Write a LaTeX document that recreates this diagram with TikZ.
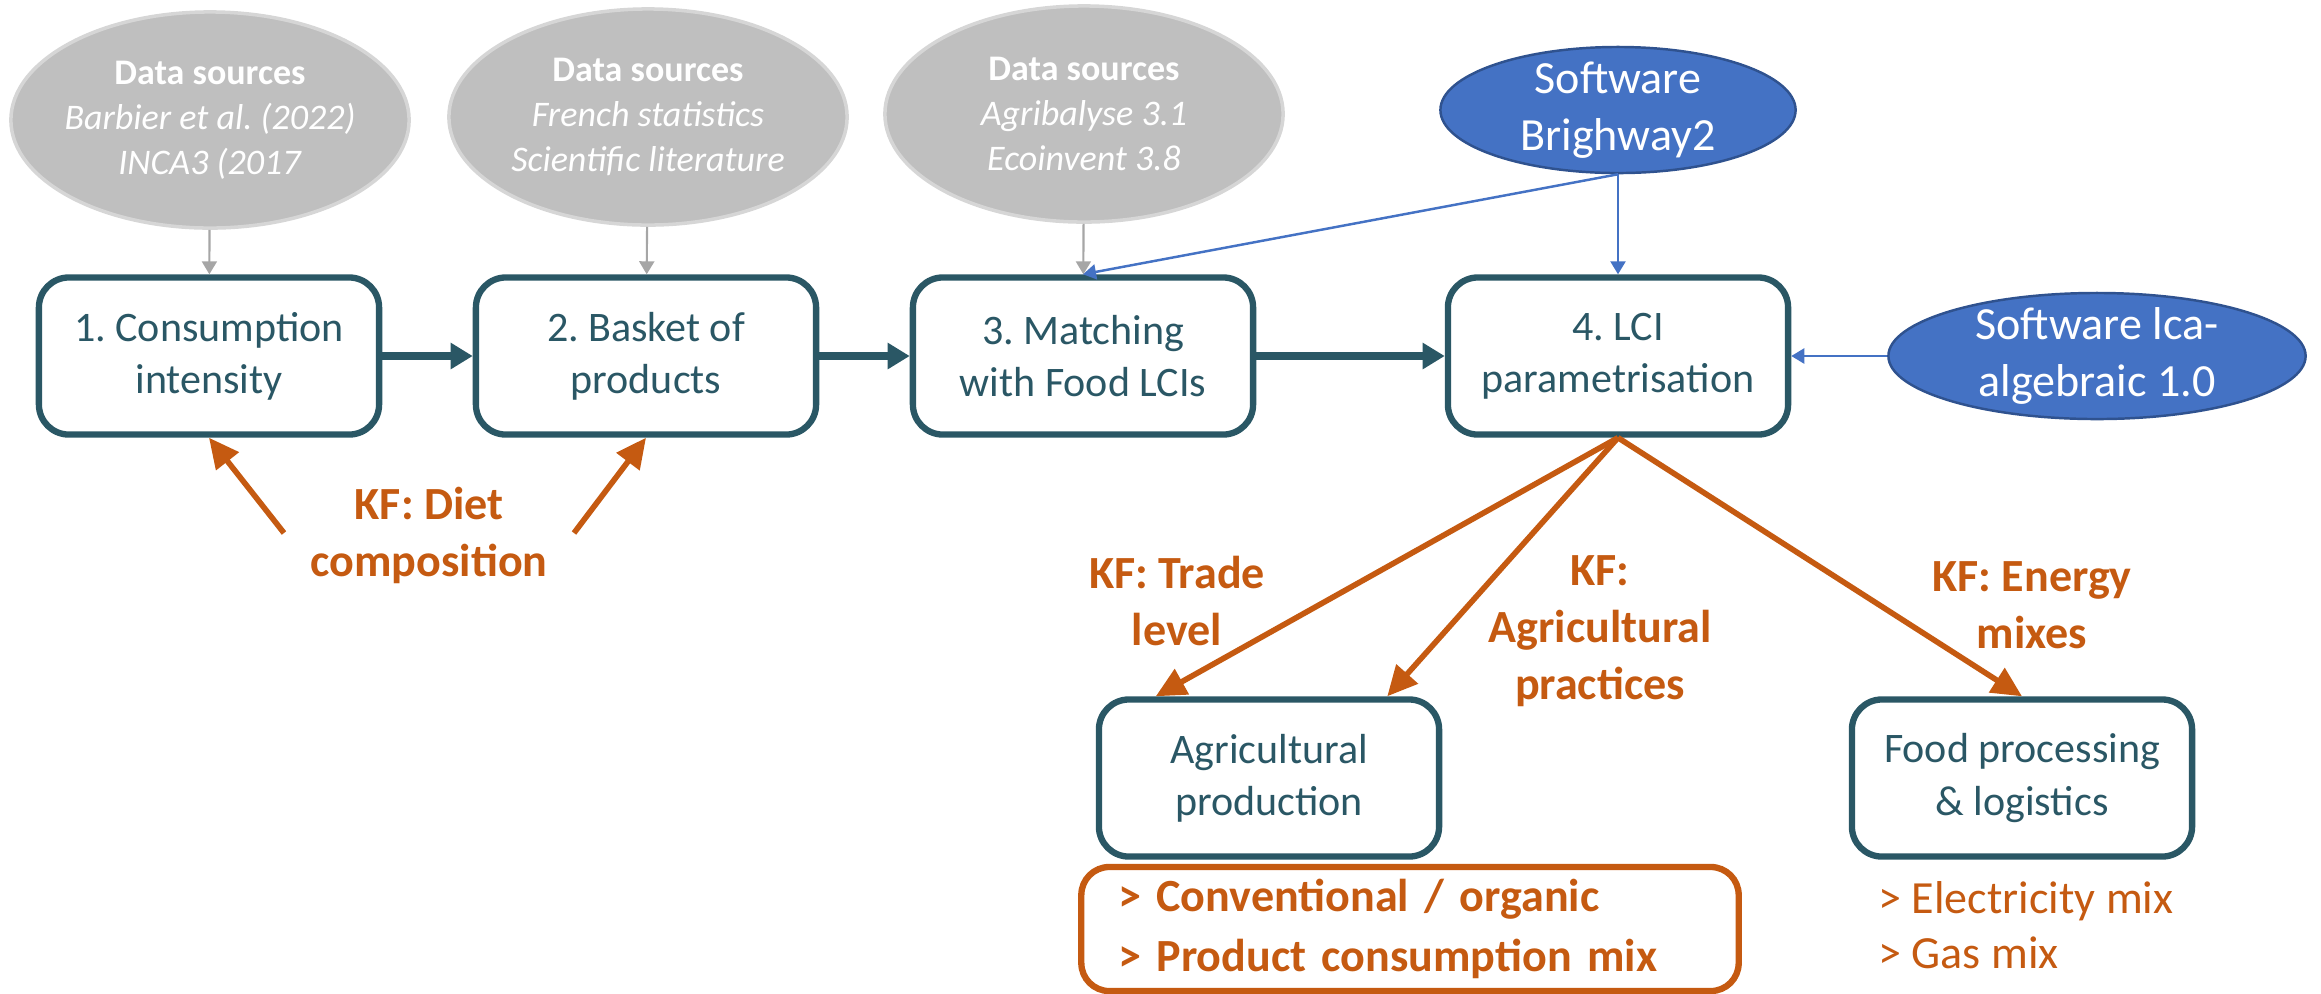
\documentclass[tikz,border=0pt]{standalone}
\usepackage{fontspec}
\setmainfont{Carlito}
\usepackage{tikz}
\usetikzlibrary{shapes.geometric, arrows.meta, positioning, calc}
\usepackage{xcolor}
\definecolor{tealdark}{HTML}{2A5765}
\definecolor{kforange}{HTML}{C55A11}
\definecolor{swblue}{HTML}{4472C4}
\definecolor{swborder}{HTML}{2F528F}
\definecolor{srcgrey}{HTML}{BFBFBF}
\definecolor{srcrim}{HTML}{D6D6D6}
\definecolor{srcline}{HTML}{A6A6A6}
\frenchspacing

\tikzset{
  stepbox/.style={draw=tealdark, fill=white, rounded corners=0.3cm, line width=1.8pt, minimum width=3.4cm, minimum height=1.57cm, align=center, text=tealdark, font=\fontsize{11.95}{14.8}\selectfont},
  source/.style={ellipse, fill=srcgrey, draw=srcrim, line width=1pt, minimum width=3.98cm, minimum height=2.16cm, inner xsep=-0.12cm, inner ysep=0pt, align=center, text=white, font=\fontsize{10.24}{12.8}\selectfont},
  software/.style={ellipse, fill=swblue, draw=swborder, line width=0.7pt, minimum height=1.26cm, inner xsep=0pt, inner ysep=-0.15cm, align=center, text=white, font=\fontsize{13.1}{16.2}\selectfont},
  kflabel/.style={align=center, text=kforange, font=\fontsize{13.1}{16.2}\selectfont\bfseries},
  flow/.style={-{Triangle[length=0.22cm, width=0.25cm]}, draw=tealdark, line width=2pt},
  kfarrow/.style={-{Triangle[length=0.3cm, width=0.28cm]}, draw=kforange, line width=1.6pt},
  feed/.style={-{Triangle[length=0.13cm, width=0.15cm]}, draw=srcline, line width=0.6pt},
  tool/.style={-{Triangle[length=0.13cm, width=0.15cm]}, draw=swblue, line width=0.7pt},
}

\begin{document}
\begin{tikzpicture}[x=0.01cm, y=-0.01cm]
  \useasboundingbox (0,0) rectangle (2321,993);

  % data sources
  \node[source] (src1) at (210,120) {\textbf{Data sources}\\\textit{Barbier et al. (2022)}\\\textit{INCA3 (2017}};
  \node[source] (src2) at (648,117) {\textbf{Data sources}\\\textit{French statistics}\\\textit{Scientific literature}};
  \node[source] (src3) at (1084,114) {\textbf{Data sources}\\\textit{Agribalyse 3.1}\\\textit{Ecoinvent 3.8}};

  % software
  \node[software, minimum width=3.55cm] (bw) at (1618,110) {Software\\Brighway2};
  \node[software, minimum width=4.17cm] (lca) at (2097,356) {Software lca-\\algebraic 1.0};

  % main steps
  \node[stepbox] (cons) at (209,356) {1. Consumption\\intensity};
  \node[stepbox] (basket) at (646,356) {2. Basket of\\products};
  \node[stepbox] (match) at (1083,356) {3. Matching\\with Food LCIs};
  \node[stepbox] (lci) at (1618,356) {4. LCI\\parametrisation};

  \node[stepbox] (agri) at (1269,778) {Agricultural\\production};
  \node[stepbox] (food) at (2022,778) {Food processing\\\& logistics};

  % options under the sub-processes
  \node[draw=kforange, line width=1.8pt, rounded corners=0.28cm, text width=5.83cm, inner xsep=0.37cm, minimum height=1.24cm, align=left, text=kforange, font=\fontsize{13.1}{17}\selectfont\bfseries] (agriopt) at (1410,929) {> Conventional / organic\\> Product consumption mix};
  \node[anchor=west, align=left, text=kforange, font=\fontsize{13.1}{15.6}\selectfont] (foodopt) at (1866,925) {> Electricity mix\\> Gas mix};

  % key factors
  \node[kflabel] (kfdiet) at (429,535) {KF: Diet\\composition};
  \node[kflabel] (kftrade) at (1177,601) {KF: Trade\\level};
  \node[kflabel] (kfpract) at (1600,631) {KF:\\Agricultural\\practices};
  \node[kflabel] (kfenergy) at (2032,605) {KF: Energy\\mixes};
  \coordinate (diet-l) at (284,533);
  \coordinate (diet-r) at (574,533);

  \draw[flow] (cons) -- (basket);
  \draw[flow] (basket) -- (match);
  \draw[flow] (match) -- (lci);

  \draw[feed] (src1) -- (cons);
  \draw[feed] (src2) -- (basket);
  \draw[feed] (src3) -- (match);

  \draw[tool] (bw.south) -- (lci.north);
  \draw[tool] (bw.south) -- (match.north);
  \draw[tool] (lca.west) -- (lci.east);

  \draw[kfarrow] (diet-l) -- (cons.south);
  \draw[kfarrow] (diet-r) -- (basket.south);
  \draw[kfarrow] (lci.south) -- ($(agri.north west)+(60,0)$);
  \draw[kfarrow] (lci.south) -- ($(agri.north east)+(-55,0)$);
  \draw[kfarrow] (lci.south) -- (food.north);
\end{tikzpicture}
\end{document}
